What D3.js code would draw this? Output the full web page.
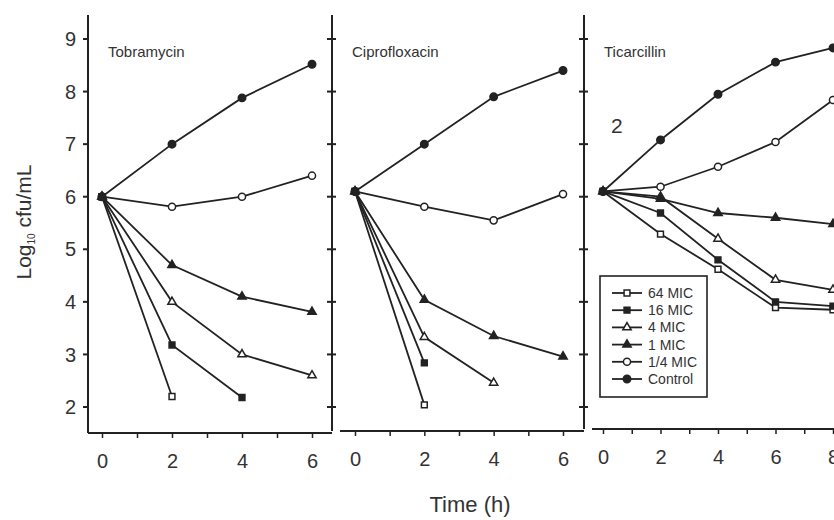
<!DOCTYPE html>
<html>
<head>
<meta charset="utf-8">
<script src="https://cdn.jsdelivr.net/npm/d3@7"></script>
<style>
  body { margin: 0; background: #fff; }
  text { font-family: "Liberation Sans", Arial, sans-serif; fill: #333; }
</style>
</head>
<body>
<svg id="chart"></svg>
<script>
// Time points per panel
const shortTimes = [0, 2, 4, 6];
const longTimes = [0, 2, 4, 6, 8];
const seriesNames = ["64 MIC", "16 MIC", "4 MIC", "1 MIC", "1/4 MIC", "Control"];
const yTicks = [2, 3, 4, 5, 6, 7, 8, 9];

// log10 cfu/mL, one row per series (same order as seriesNames)
const tobramycin = [
  [6.0, 2.2],
  [6.0, 3.18, 2.18],
  [6.0, 4.0, 3.0, 2.6],
  [6.0, 4.7, 4.1, 3.81],
  [6.0, 5.81, 6.0, 6.4],
  [6.0, 7.0, 7.88, 8.52]
];
const ciprofloxacin = [
  [6.1, 2.04],
  [6.1, 2.84],
  [6.1, 3.33, 2.46],
  [6.1, 4.04, 3.35, 2.96],
  [6.1, 5.81, 5.55, 6.05],
  [6.1, 7.0, 7.9, 8.4]
];
const ticarcillin = [
  [6.1, 5.29, 4.62, 3.89, 3.85],
  [6.1, 5.69, 4.8, 4.0, 3.92],
  [6.1, 6.0, 5.2, 4.42, 4.23],
  [6.1, 5.96, 5.69, 5.6, 5.48],
  [6.1, 6.19, 6.57, 7.04, 7.84],
  [6.1, 7.08, 7.95, 8.56, 8.83]
];

const width = 834, height = 520;
const ink = "#222";

const svg = d3.select("#chart").attr("width", width).attr("height", height);

const y = d3.scaleLinear().domain([2, 9]).range([407, 39]);

const panels = [
  { name: "Tobramycin", times: shortTimes, values: tobramycin, maxT: 6,
    x: d3.scaleLinear().domain([0, 6]).range([102, 312]), left: 88, right: 332, bottom: 433, axisStart: 88 },
  { name: "Ciprofloxacin", times: shortTimes, values: ciprofloxacin, maxT: 6,
    x: d3.scaleLinear().domain([0, 6]).range([355, 563]), left: 332, right: 584, bottom: 431, axisStart: 340 },
  { name: "Ticarcillin", times: longTimes, values: ticarcillin, maxT: 8,
    x: d3.scaleLinear().domain([0, 8]).range([603, 833]), left: 584, right: 840, bottom: 429, axisStart: 592 }
];

// marker style per series
const symbols = [d3.symbolSquare, d3.symbolSquare, d3.symbolTriangle, d3.symbolTriangle, d3.symbolCircle, d3.symbolCircle];
const filled = [false, true, false, true, false, true];
const sizes = [34, 34, 30, 30, 40, 44];

function marker(sel, i) {
  sel.attr("d", d3.symbol().type(symbols[i]).size(sizes[i]))
    .attr("fill", filled[i] ? ink : "#fff")
    .attr("stroke", ink)
    .attr("stroke-width", 1.5);
}

// Vertical lines with tick marks
const vLines = [88, 332, 584];
vLines.forEach((vx, k) => {
  const bottom = panels[k].bottom;
  svg.append("line")
    .attr("x1", vx).attr("x2", vx)
    .attr("y1", 15).attr("y2", bottom)
    .attr("stroke", ink).attr("stroke-width", 2);
  svg.append("g").selectAll("line")
    .data(yTicks)
    .join("line")
    .attr("x1", vx - 5)
    .attr("x2", k === 0 ? vx : vx + 4)
    .attr("y1", (d) => y(d)).attr("y2", (d) => y(d))
    .attr("stroke", ink).attr("stroke-width", 2);
});

// y tick labels on the first panel
svg.append("g").selectAll("text")
  .data(yTicks)
  .join("text")
  .attr("x", 76)
  .attr("y", (d) => y(d))
  .attr("dy", "0.36em")
  .attr("text-anchor", "end")
  .attr("font-size", 20)
  .text((d) => d);

panels.forEach((p) => {
  // bottom axis
  const axis = d3.axisBottom(p.x)
    .tickValues(d3.range(0, p.maxT + 1))
    .tickSize(5)
    .tickPadding(16)
    .tickFormat((d) => (d % 2 === 0 ? d : ""));
  const g = svg.append("g")
    .attr("transform", `translate(0,${p.bottom})`)
    .call(axis);
  g.select(".domain").remove();
  g.selectAll(".tick line").attr("stroke", ink).attr("stroke-width", 1.5);
  g.selectAll(".tick text")
    .attr("font-size", 20)
    .attr("fill", "#333")
    .attr("font-family", "Liberation Sans, Arial, sans-serif");
  g.append("line")
    .attr("x1", p.axisStart).attr("x2", Math.min(p.right, width))
    .attr("stroke", ink).attr("stroke-width", 2.2);

  // panel title
  svg.append("text")
    .attr("x", p.left + 20)
    .attr("y", 57)
    .attr("font-size", 15)
    .attr("fill", "#444")
    .text(p.name);

  const line = d3.line()
    .x((d, i) => p.x(p.times[i]))
    .y((d) => y(d));

  const series = svg.append("g");
  series.selectAll("path")
    .data(p.values)
    .join("path")
    .attr("d", (d) => line(d))
    .attr("fill", "none")
    .attr("stroke", ink)
    .attr("stroke-width", 1.8);

  p.values.forEach((vals, i) => {
    series.append("g").selectAll("path")
      .data(vals)
      .join("path")
      .attr("transform", (d, j) => `translate(${p.x(p.times[j])},${y(d)})`)
      .call(marker, i);
  });
});

// "2" label in the third panel
svg.append("text")
  .attr("x", 611).attr("y", 133)
  .attr("font-size", 21)
  .text("2");

// Legend
const legend = svg.append("g");
legend.append("rect")
  .attr("x", 600).attr("y", 276)
  .attr("width", 107).attr("height", 121)
  .attr("fill", "#fff")
  .attr("stroke", ink).attr("stroke-width", 1.6);
const rowY = d3.scalePoint().domain(seriesNames).range([293, 379]);
seriesNames.forEach((name, i) => {
  const ry = rowY(name);
  legend.append("line")
    .attr("x1", 612).attr("x2", 642)
    .attr("y1", ry).attr("y2", ry)
    .attr("stroke", ink).attr("stroke-width", 1.8);
  legend.append("path")
    .attr("transform", `translate(627,${ry})`)
    .call(marker, i);
  legend.append("text")
    .attr("x", 648).attr("y", ry)
    .attr("dy", "0.36em")
    .attr("font-size", 14)
    .attr("fill", "#444")
    .text(name);
});

// Axis titles
const yLabel = svg.append("text")
  .attr("transform", "translate(31,222) rotate(-90)")
  .attr("text-anchor", "middle")
  .attr("font-size", 21);
yLabel.append("tspan").text("Log");
yLabel.append("tspan").attr("font-size", 10).attr("dy", 4).text("10");
yLabel.append("tspan").attr("dy", -4).text(" cfu/mL");

svg.append("text")
  .attr("x", 470).attr("y", 512)
  .attr("text-anchor", "middle")
  .attr("font-size", 22)
  .text("Time (h)");
</script>
</body>
</html>
